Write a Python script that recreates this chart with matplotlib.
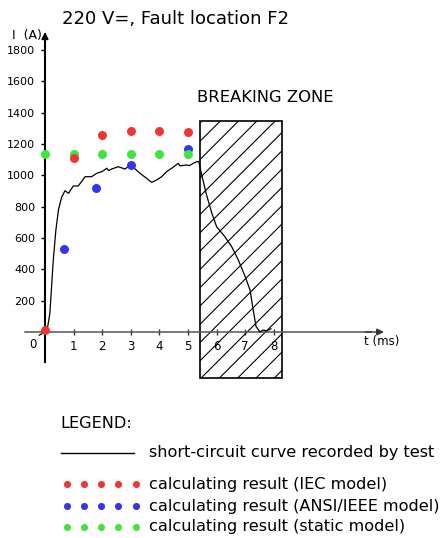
import matplotlib
matplotlib.use('Agg')
import matplotlib.pyplot as plt
from matplotlib.patches import Rectangle
from matplotlib.transforms import Affine2D

plt.rcParams['font.family'] = ['DejaVu Sans']

# recorded short-circuit curve (ms, A)
t_test = [-0.2, 0.0, 0.1, 0.17, 0.29, 0.38, 0.47, 0.58, 0.70, 0.82, 0.99,
          1.16, 1.28, 1.40, 1.63, 1.81, 2.0, 2.16, 2.22, 2.33, 2.56, 2.80,
          2.97, 3.03, 3.32, 3.55, 3.73, 3.90, 4.08, 4.25, 4.43, 4.66, 4.72,
          4.95, 5.05, 5.18, 5.30, 5.38, 5.48, 5.65, 5.83, 6.0, 6.12, 6.29,
          6.53, 6.76, 7.0, 7.17, 7.28, 7.38, 7.52, 7.62, 7.75, 7.9]
i_test = [-20, 0, 40, 119, 460, 650, 779, 860, 902, 885, 932,
          932, 960, 991, 991, 1013, 1024, 1045, 1030, 1040, 1055, 1040,
          1066, 1060, 1013, 981, 955, 970, 991, 1023, 1045, 1076, 1060,
          1066, 1062, 1076, 1087, 1087, 1002, 874, 760, 672, 646, 608,
          544, 459, 353, 268, 140, 34, 0, 12, 8, 20]

# calculated results
t_iec = [0, 1.03, 2, 3, 4, 5]
i_iec = [10, 1112, 1255, 1285, 1285, 1278]
t_ansi = [0.65, 1.78, 3, 5]
i_ansi = [530, 920, 1068, 1168]
t_static = [0, 1, 2, 3, 4, 5]
i_static = [1135, 1135, 1135, 1135, 1135, 1135]

x_ticks = [1, 2, 3, 4, 5, 6, 7, 8]
y_ticks = [200, 400, 600, 800, 1000, 1200, 1400, 1600, 1800]
zone_t = (5.42, 8.29)     # breaking zone, ms
zone_i = (-294, 1347)     # vertical extent of the drawn box, A

legend_labels = ["short-circuit curve recorded by test",
                 "calculating result (IEC model)",
                 "calculating result (ANSI/IEEE model)",
                 "calculating result (static model)"]

RED, BLUE, GREEN = '#f03535', '#3535f0', '#3ce63c'

W, H = 448, 538
fig = plt.figure(figsize=(W / 100, H / 100), dpi=100)
ax = fig.add_axes([0, 0, 1, 1])
x0, xs = 45, 28.6
y0, ys = 332, 0.1567
ax.set_xlim(-x0 / xs, (W - x0) / xs)
ax.set_ylim((y0 - H) / ys, y0 / ys)
ax.set_facecolor('white')

# top-left pixel coords -> figure
pix = Affine2D().scale(1 / W, -1 / H).translate(0, 1) + fig.transFigure

for s in ['top', 'right']:
    ax.spines[s].set_visible(False)
ax.spines['left'].set_position(('data', 0))
ax.spines['bottom'].set_position(('data', 0))
ax.spines['left'].set_bounds(-191, 1880)
ax.spines['left'].set_linewidth(1.5)
ax.spines['bottom'].set_bounds(-0.7, 11.4)
ax.spines['bottom'].set_color('#555555')
ax.spines['bottom'].set_linewidth(1.1)
ax.set_xticks(x_ticks)
ax.set_yticks(y_ticks)
ax.tick_params(axis='x', direction='inout', length=4, width=1,
               color='#333333', labelsize=8.5, pad=4)
ax.tick_params(axis='y', direction='out', length=3, width=1,
               labelsize=8, pad=4)
ax.annotate('', xy=(11.85, 0), xytext=(11.2, 0),
            arrowprops=dict(arrowstyle='-|>', lw=1, color='#333333',
                            mutation_scale=10, shrinkA=0, shrinkB=0))
ax.annotate('', xy=(0, 1915), xytext=(0, 1800),
            arrowprops=dict(arrowstyle='-|>', lw=1.2, color='black',
                            mutation_scale=10, shrinkA=0, shrinkB=0))

# breaking zone box with 45 degree hatching (about 18 px apart)
box = Rectangle((zone_t[0], zone_i[0]), zone_t[1] - zone_t[0],
                zone_i[1] - zone_i[0], facecolor='white', edgecolor='black',
                lw=1.2, zorder=1.5)
ax.add_patch(box)
step = 18.3 / xs
rise = (zone_i[1] - zone_i[0]) * ys / xs   # ms covered by a 45° line
c = 7.41 - 5 * step
while c - rise < zone_t[1]:
    ln, = ax.plot([c - rise, c], [zone_i[0], zone_i[1]], color='black',
                  lw=0.8, zorder=1.6)
    ln.set_clip_path(box)
    c += step

ax.plot(t_test, i_test, color='black', lw=0.9, zorder=3)
ax.scatter(t_ansi, i_ansi, s=42, color=BLUE, zorder=4, lw=0)
ax.scatter(t_static, i_static, s=42, color=GREEN, zorder=4, lw=0)
ax.scatter(t_iec, i_iec, s=42, color=RED, zorder=4, lw=0)

ax.text(33, 345, "0", transform=pix, fontsize=8.5, ha='center', va='center')
ax.text(12, 35, "I  (A)", transform=pix, fontsize=9, ha='left', va='center')
ax.text(364, 342, "t (ms)", transform=pix, fontsize=8.5, ha='left',
        va='center')
ax.text(62, 19, "220 V=, Fault location F2", transform=pix, fontsize=13,
        ha='left', va='center')
ax.text(197, 98, "BREAKING ZONE", transform=pix, fontsize=11.8, ha='left',
        va='center')

# legend block
ax.text(60, 423, "LEGEND:", transform=pix, fontsize=11.6, ha='left',
        va='center')
ax.plot([61, 134], [453, 453], color='black', lw=1, transform=pix,
        clip_on=False)
rows = [453, 484, 506, 527]
for y, lab in zip(rows, legend_labels):
    ax.text(149, y, lab, transform=pix, fontsize=11.6, ha='left',
            va='center')
dot_x = [67, 84, 101, 118, 136]
for y, c in zip(rows[1:], [RED, BLUE, GREEN]):
    ax.scatter(dot_x, [y] * 5, s=26, color=c, lw=0, transform=pix,
               clip_on=False)

fig.savefig('out.png', dpi=100)
